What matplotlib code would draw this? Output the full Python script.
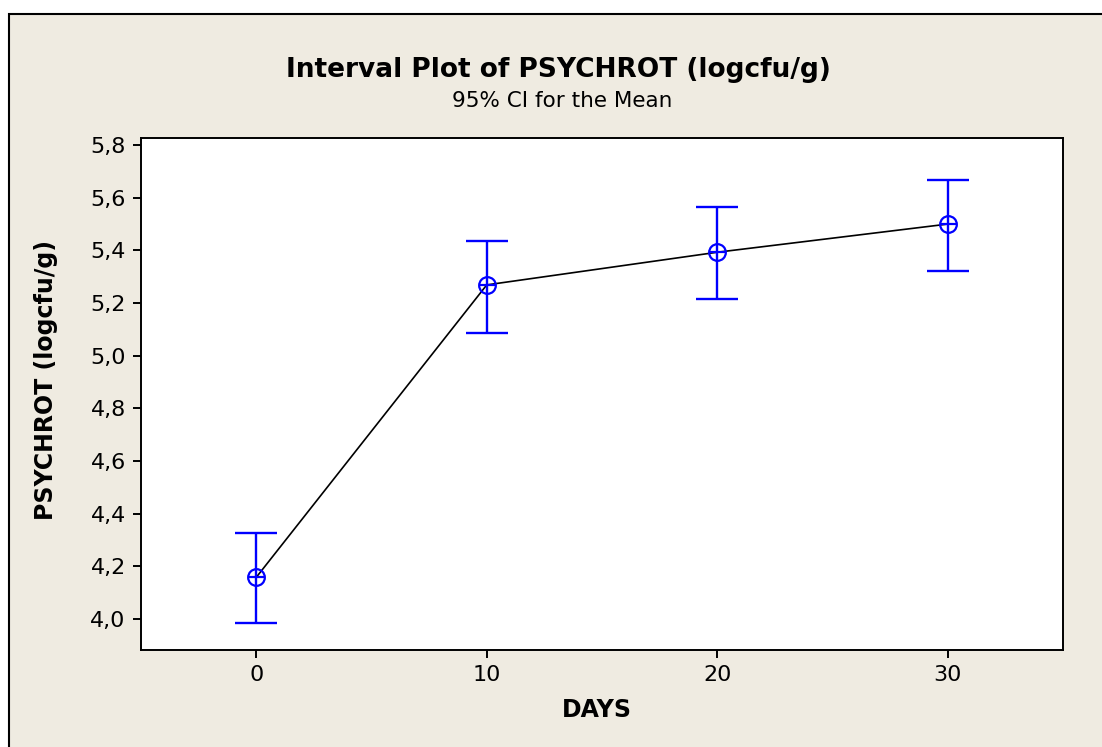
#!/usr/bin/env python3

import matplotlib
matplotlib.use("Agg")
import matplotlib.pyplot as plt
from matplotlib.patches import Rectangle

# mean and 95% CI for each storage day
days = [0, 10, 20, 30]
means = [4.158, 5.269, 5.393, 5.500]
ci_low = [3.984, 5.088, 5.214, 5.323]
ci_high = [4.325, 5.437, 5.563, 5.667]

yticks = [4.0, 4.2, 4.4, 4.6, 4.8, 5.0, 5.2, 5.4, 5.6, 5.8]
xticks = [0, 10, 20, 30]

BEIGE = "#efebe1"
BLUE = "#0000ff"

plt.rcParams['font.family'] = ['DejaVu Sans']

fig = plt.figure(figsize=(11.02, 7.47), dpi=100)
fig.patch.set_facecolor("white")

# framed beige panel behind everything
W, H = 1102.0, 747.0
panel = Rectangle((9 / W, -0.05), 1.1, 1 - 14 / H + 0.05, transform=fig.transFigure,
                  facecolor=BEIGE, edgecolor="black", linewidth=1.5, zorder=-10)
fig.patches.append(panel)

ax = fig.add_axes([141 / W, 1 - 650 / H, (1063 - 141) / W, (650 - 138) / H])
ax.set_facecolor("white")
ax.set_zorder(1)

# connect the means
ax.plot(days, means, color="black", linewidth=1.2, zorder=2)

# confidence intervals
yerr = [[m - lo for m, lo in zip(means, ci_low)],
        [hi - m for m, hi in zip(means, ci_high)]]
ax.errorbar(days, means, yerr=yerr, fmt="none", ecolor=BLUE, elinewidth=1.7,
            capsize=15, capthick=1.7, zorder=3)

# circle-with-cross mean symbol
ax.plot(days, means, linestyle="none", marker="o", markersize=12,
        markerfacecolor="none", markeredgecolor=BLUE, markeredgewidth=1.6, zorder=4)
ax.plot(days, means, linestyle="none", marker="_", markersize=12,
        markeredgecolor=BLUE, markeredgewidth=1.6, zorder=4)

ax.set_xlim(-5, 35)
ax.set_ylim(3.882, 5.827)
ax.set_xticks(xticks)
ax.set_xticklabels([str(x) for x in xticks])
ax.set_yticks(yticks)
ax.set_yticklabels([("%.1f" % v).replace(".", ",") for v in yticks])

for s in ax.spines.values():
    s.set_linewidth(1.4)
    s.set_color("black")
ax.tick_params(direction="out", length=6, width=1.4, labelsize=16, pad=5, colors="black")

ax.set_xlabel("DAYS", fontsize=17, fontweight="bold", va="top")
ax.set_ylabel("PSYCHROT (logcfu/g)", fontsize=17, fontweight="bold")
ax.xaxis.set_label_coords(0.494, -0.094)
ax.yaxis.set_label_coords(-0.09, 0.527)

fig.text(558 / W, 1 - 70 / H, "Interval Plot of PSYCHROT (logcfu/g)", ha="center",
         va="center", fontsize=19, fontweight="bold")
fig.text(562 / W, 1 - 101 / H, "95% CI for the Mean", ha="center", va="center",
         fontsize=15.5)

fig.savefig("out.png", dpi=100, facecolor=fig.get_facecolor())
